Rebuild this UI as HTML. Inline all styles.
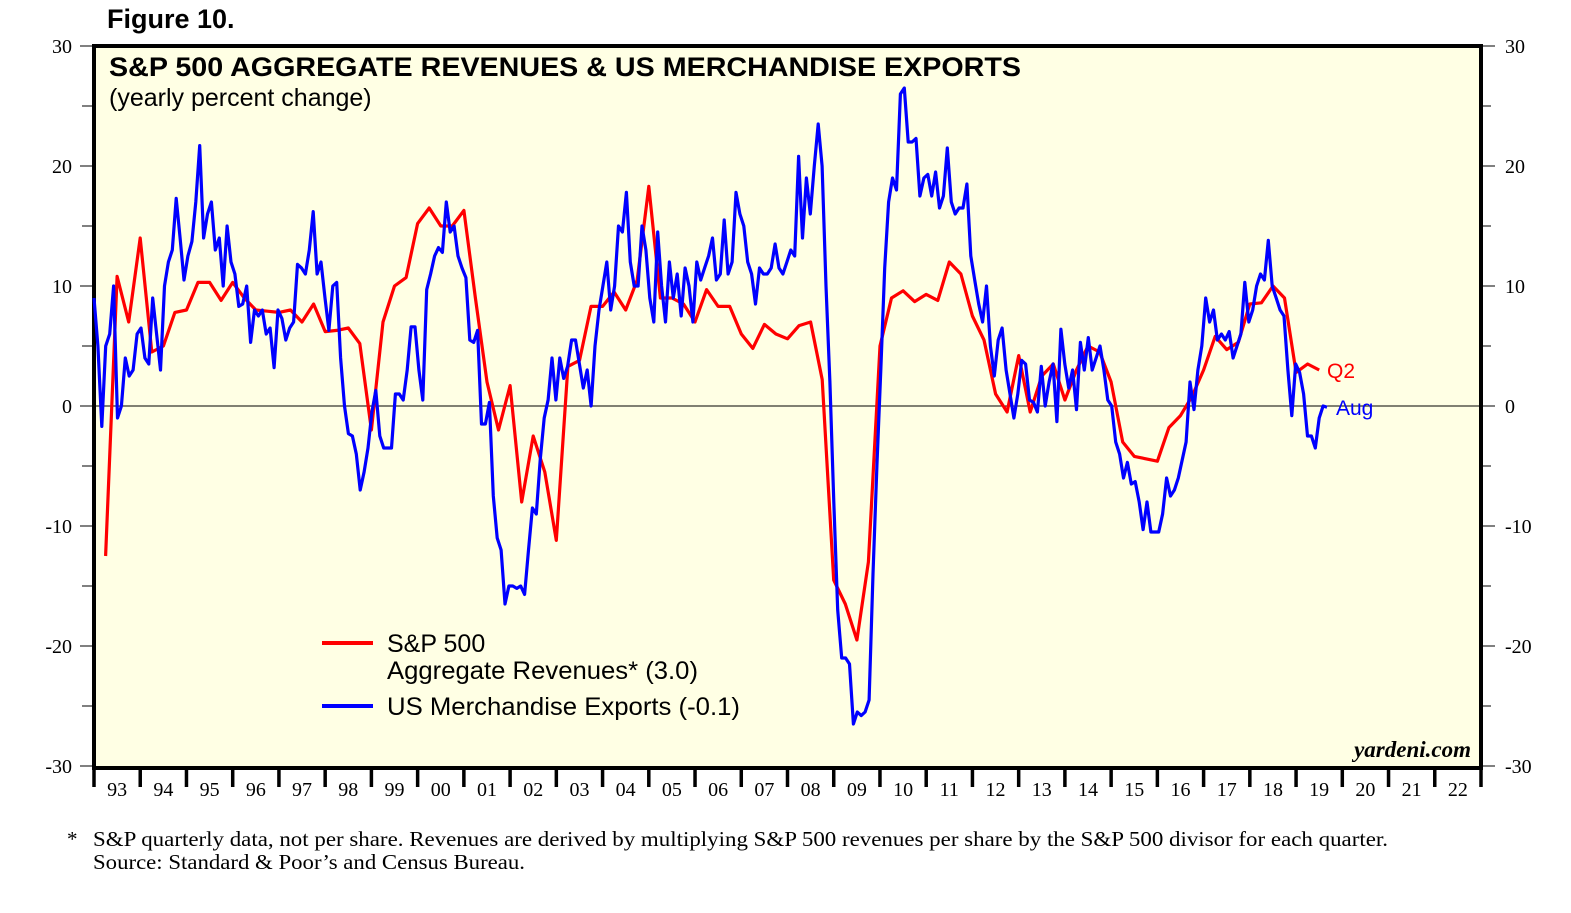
<!DOCTYPE html>
<html><head><meta charset="utf-8"><style>
body{margin:0;background:#fff;width:1571px;height:908px;overflow:hidden;font-family:"Liberation Sans",sans-serif}
svg text{font-family:"Liberation Sans",sans-serif}
.serif{font-family:"Liberation Serif",serif}
</style></head><body>
<svg id="chart" width="1571" height="908" xmlns="http://www.w3.org/2000/svg">
<text x="107" y="28" font-size="27" font-weight="bold">Figure 10.</text>
<rect x="94" y="46" width="1387" height="722" fill="#FFFFE4" stroke="#000" stroke-width="4"/>
<g id="axes"></g>
<g id="series"></g>
<text x="109" y="76" font-size="27" font-weight="bold" textLength="912" lengthAdjust="spacingAndGlyphs">S&amp;P 500 AGGREGATE REVENUES &amp; US MERCHANDISE EXPORTS</text>
<text x="109" y="106" font-size="25">(yearly percent change)</text>
<g>
<line x1="322" y1="643" x2="373" y2="643" stroke="#f00" stroke-width="4"/>
<text x="387" y="652" font-size="25">S&amp;P 500</text>
<text x="387" y="679" font-size="25" textLength="311" lengthAdjust="spacingAndGlyphs">Aggregate Revenues* (3.0)</text>
<line x1="322" y1="706" x2="373" y2="706" stroke="#00f" stroke-width="4"/>
<text x="387" y="715" font-size="25" textLength="353" lengthAdjust="spacingAndGlyphs">US Merchandise Exports (-0.1)</text>
</g>
<text x="1327" y="378" font-size="21" fill="#f00">Q2</text>
<text x="1336" y="415" font-size="21" fill="#00f">Aug</text>
<text x="1471" y="757" font-size="23" font-style="italic" font-weight="bold" text-anchor="end" class="serif">yardeni.com</text>
<text x="67" y="846" font-size="21" class="serif">*</text>
<text x="93" y="846" font-size="21" class="serif" textLength="1295" lengthAdjust="spacingAndGlyphs">S&amp;P quarterly data, not per share. Revenues are derived by multiplying S&amp;P 500 revenues per share by the S&amp;P 500 divisor for each quarter.</text>
<text x="93" y="869" font-size="21" class="serif" textLength="432" lengthAdjust="spacingAndGlyphs">Source: Standard &amp; Poor’s and Census Bureau.</text>
</svg>
<script>
const yTicks=[-30,-20,-10,0,10,20,30];
const yearLabels=["93","94","95","96","97","98","99","00","01","02","03","04","05","06","07","08","09","10","11","12","13","14","15","16","17","18","19","20","21","22"];
const revenueStart=1993.25;
const revenue=[-12.5,10.8,7,14,4.5,5,7.8,8,10.3,10.3,8.8,10.3,9,8,7.9,7.8,8,7,8.5,6.2,6.3,6.5,5.2,-2,7,10,10.7,15.2,16.5,15,15,16.3,9,2,-2,1.7,-8,-2.5,-5.5,-11.2,3.3,3.8,8.3,8.3,9.5,8,10.5,18.3,9,9,8.5,7,9.7,8.3,8.3,6,4.8,6.8,6,5.6,6.7,7,2.2,-14.5,-16.5,-19.5,-13,5,9,9.6,8.7,9.3,8.8,12,11,7.5,5.5,1,-0.5,4.2,-0.5,2.5,3.5,0.5,3,5,4.5,2,-3,-4.2,-4.4,-4.6,-1.8,-0.8,0.8,3,5.8,4.7,5.3,8.5,8.6,10,9,2.8,3.5,3];
const exportsStart=1993.0, exportsEnd=2019.67;
const exportsVals=[9,5,-1.7,5,6,10,-1,0,4,2.5,3,6,6.5,4,3.5,9,6,3,10,12,13,17.3,14,10.5,12.5,13.7,17,21.7,14,16,17,13,14,10,15,12,11,8.3,8.5,10,5.3,8,7.5,8,6,6.5,3.2,8,7.3,5.5,6.5,7,11.8,11.5,11,13,16.2,11,12,9,6.3,10,10.3,4,0,-2.3,-2.5,-4,-7,-5.5,-3.5,-0.5,1.3,-2.5,-3.5,-3.5,-3.5,1,1,0.5,3,6.6,6.6,3,0.5,9.7,11,12.5,13.2,12.8,17,14.5,15,12.5,11.5,10.7,5.5,5.3,6.3,-1.5,-1.5,0.3,-7.5,-11,-12,-16.5,-15,-15,-15.2,-15,-15.7,-12,-8.5,-9,-4.5,-1,0.5,4,0.5,4,2.3,3.3,5.5,5.5,3.5,1.5,3,0,5,8,10,12,8,10,15,14.5,17.8,12,10,10,15,13,9,7,14.5,10,7,12,9,11,7.5,11.5,10,7,12,10.5,11.5,12.5,14,10.5,11,15.5,11,12,17.8,16,15,12,11,8.5,11.5,11,11,11.5,13.5,11.5,11,12,13,12.5,20.8,14,19,16,20,23.5,20,10,2,-8,-17,-21,-21,-21.5,-26.5,-25.5,-25.8,-25.5,-24.5,-14,-5,3,11.5,17,19,18,26,26.5,22,22,22.3,17.5,19,19.3,17.5,19.5,16.5,17.5,21.5,17,16,16.5,16.5,18.5,12.5,10.5,8.5,7,10,5,2.5,5.5,6.5,3,1,-1,1,3.8,3.5,0.5,0.3,-0.5,3.3,0,2,3.5,-1.3,6.4,3.5,1.5,3,-0.3,5.3,3,5.7,3,4,5,3,0.5,0,-3,-4,-6,-4.7,-6.5,-6.3,-8,-10.3,-8,-10.5,-10.5,-10.5,-9,-6,-7.5,-7,-6,-4.5,-3,2,-0.3,3,5,9,7,8,5.5,6,5.5,6.2,4,5,6,10.3,7,8,10,11,10.5,13.8,10,9,8,7.5,3,-0.8,3.5,2.8,1,-2.5,-2.5,-3.5,-1,0,-0.1];

const NS="http://www.w3.org/2000/svg";
const X0=94,X1=1481,Y0=46,Y1=766,T0=1993,T1=2023;
function xs(t){return X0+(t-T0)/(T1-T0)*(X1-X0);}
function ys(v){return Y0+(30-v)/60*(Y1-Y0);}
function mk(tag,attrs,parent){const e=document.createElementNS(NS,tag);for(const k in attrs)e.setAttribute(k,attrs[k]);parent.appendChild(e);return e;}
const axes=document.getElementById('axes'),series=document.getElementById('series');
for(let v=-30;v<=30;v+=5){
  const y=ys(v),major=v%10===0;
  const l=mk('line',{x1:X0-(major?14:12),x2:X0-2,y1:y,y2:y,stroke:'#000','stroke-width':1},axes);
  
  
  const r=mk('line',{x1:X1+2,x2:X1+(major?14:10),y1:y,y2:y,stroke:'#000','stroke-width':1},axes);
  
  
}
yTicks.forEach(v=>{
  const y=ys(v);
  const a=mk('text',{x:72,y:y+7,'font-size':20,'text-anchor':'end',class:'serif'},axes);a.textContent=v;
  
  
  const b=mk('text',{x:1505,y:y+7,'font-size':20,'text-anchor':'start',class:'serif'},axes);b.textContent=v;
  
  
});
yearLabels.forEach((lab,i)=>{
  const x=xs(T0+i);
  const t=mk('line',{x1:x,x2:x,y1:Y1,y2:Y1+21,stroke:'#000','stroke-width':3.5},axes);
  
  
  const tx=mk('text',{x:xs(T0+i+0.5),y:796,'font-size':20,'text-anchor':'middle',class:'serif'},axes);tx.textContent=lab;
  
  
});
{const t=mk('line',{x1:X1,x2:X1,y1:Y1,y2:Y1+21,stroke:'#000','stroke-width':3.5},axes);

}
const zl=mk('line',{x1:X0,x2:X1,y1:ys(0),y2:ys(0),stroke:'#000','stroke-width':1},axes);


const ep=exportsVals.map((v,i)=>xs(exportsStart+i*(exportsEnd-exportsStart)/(exportsVals.length-1)).toFixed(1)+','+ys(v).toFixed(1)).join(' ');
const bl=mk('polyline',{points:ep,fill:'none',stroke:'#00f','stroke-width':3.2,'stroke-linejoin':'round'},series);


const rp=revenue.map((v,i)=>xs(revenueStart+i*0.25).toFixed(1)+','+ys(v).toFixed(1)).join(' ');
const rl=mk('polyline',{points:rp,fill:'none',stroke:'#f00','stroke-width':3.2,'stroke-linejoin':'round'},series);


series.appendChild(bl);
</script>
</body></html>
